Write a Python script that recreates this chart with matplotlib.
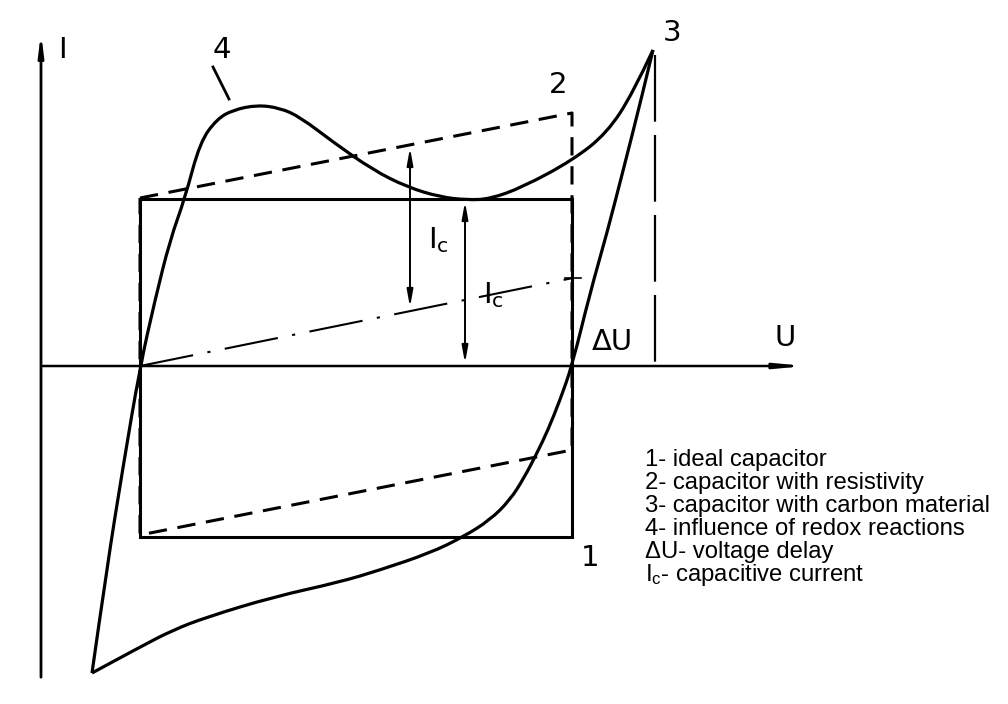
import numpy as np
import matplotlib
matplotlib.use("Agg")
import matplotlib.pyplot as plt
from matplotlib.path import Path
from matplotlib.patches import PathPatch

# curve 3 / 4, (U, I), origin at the axes crossing
# rising branch: bottom tip -> redox hump (4) -> point 3
up_u = [51, 66, 82, 99, 114, 129, 144, 159, 176, 192, 216, 239, 259, 292, 332, 366,
        399, 426, 449, 482, 532, 566, 592, 612]
up_i = [-307, -201, -101, -1, 66, 126, 168, 224, 247, 256, 261, 258, 249, 224, 196, 179,
        169, 166, 167, 179, 206, 233, 273, 316]
# falling branch: point 3 -> bottom tip
down_u = [612, 600, 583, 566, 549, 531, 519, 507, 496, 483, 469, 449, 422, 389, 339, 299,
          232, 166, 132, 99, 51]
down_i = [316, 266, 199, 133, 73, 0, -34, -64, -87, -112, -134, -154, -171, -187, -204, -216,
          -231, -251, -264, -281, -307]

# ideal capacitor (1)
rect_u = [99, 531, 531, 99, 99]
rect_i = [167, 167, -171, -171, 167]

# capacitor with resistivity (2)
res_u = [99, 531, 531, 99, 99]
res_i = [168, 253, -84, -169, 168]

# capacitive current line (dash-dot)
cap_u = [99, 532]
cap_i = [0, 88]

# voltage delay marker from point 3
delay_u = 614
delay_top = 311

legend_lines = ["1- ideal capacitor",
                "2- capacitor with resistivity",
                "3- capacitor with carbon material",
                "4- influence of redox reactions",
                "\u0394U- voltage delay",
                "$\\mathregular{I_c}$- capacitive current"]


def smooth_path(xs, ys):
    # quadratic bezier chain through the midpoints, ends pinned
    pts = list(zip(xs, ys))
    verts = [pts[0]]
    codes = [Path.MOVETO]
    for j in range(1, len(pts) - 1):
        if j == len(pts) - 2:
            end = pts[-1]
        else:
            end = ((pts[j][0] + pts[j + 1][0]) / 2, (pts[j][1] + pts[j + 1][1]) / 2)
        verts += [pts[j], end]
        codes += [Path.CURVE3, Path.CURVE3]
    return Path(verts, codes)


fig = plt.figure(figsize=(10.08, 7.04), dpi=100)
ax = fig.add_axes([0, 0, 1, 1])
ax.set_xlim(-41, 967)
ax.set_ylim(-338, 366)
ax.axis("off")

k = "black"

# axes with arrows
ax.annotate("", xy=(0, 336), xytext=(0, -314),
            arrowprops=dict(arrowstyle="-|>,head_length=1.2,head_width=0.15", color=k, lw=2))
ax.annotate("", xy=(767, 0), xytext=(-1, 0),
            arrowprops=dict(arrowstyle="-|>,head_length=1.6,head_width=0.15", color=k, lw=1.8))

ax.plot(rect_u, rect_i, color=k, lw=2.2, solid_joinstyle="miter")
ax.plot(res_u, res_i, color=k, lw=2.2, dashes=(6, 3.5))
ax.plot(cap_u, cap_i, color=k, lw=1.5, dashes=(26, 7, 1.5, 7))
ax.plot([delay_u, delay_u], [delay_top, 0], color=k, lw=1.6, dashes=(30, 6))
# small tick where the dash-dot line meets the right side
ax.plot([524, 540], [88, 88], color=k, lw=1.2)

for xs, ys in [(up_u, up_i), (down_u, down_i)]:
    ax.add_patch(PathPatch(smooth_path(xs, ys), fill=False, edgecolor=k, lw=2.3,
                           joinstyle="round"))

# capacitive current arrows
ax.annotate("", xy=(369, 221), xytext=(369, 56),
            arrowprops=dict(arrowstyle="<|-|>,head_length=1.0,head_width=0.18", color=k, lw=1.4))
ax.annotate("", xy=(424, 167), xytext=(424, 0),
            arrowprops=dict(arrowstyle="<|-|>,head_length=1.0,head_width=0.18", color=k, lw=1.4))

# pointer to curve 4
ax.plot([172, 188], [299, 267], color=k, lw=2)

fs = 21
ax.text(21, 316, "I", fontsize=fs, ha="center", va="center")
ax.text(744, 28, "U", fontsize=fs, ha="center", va="center")
ax.text(571, 24, "\u0394U", fontsize=fs, ha="center", va="center")
ax.text(549, -192, "1", fontsize=fs, ha="center", va="center")
ax.text(517, 281, "2", fontsize=fs, ha="center", va="center")
ax.text(631, 333, "3", fontsize=fs, ha="center", va="center")
ax.text(181, 316, "4", fontsize=fs, ha="center", va="center")
ax.text(397, 126, "$\\mathregular{I_c}$", fontsize=fs, ha="center", va="center")
ax.text(452, 71, "$\\mathregular{I_c}$", fontsize=fs, ha="center", va="center")

for n, line in enumerate(legend_lines):
    ax.text(604, -94 - 23 * n, line, fontsize=17.2, family="Liberation Sans",
            ha="left", va="center")

fig.savefig("out.png", dpi=100)
